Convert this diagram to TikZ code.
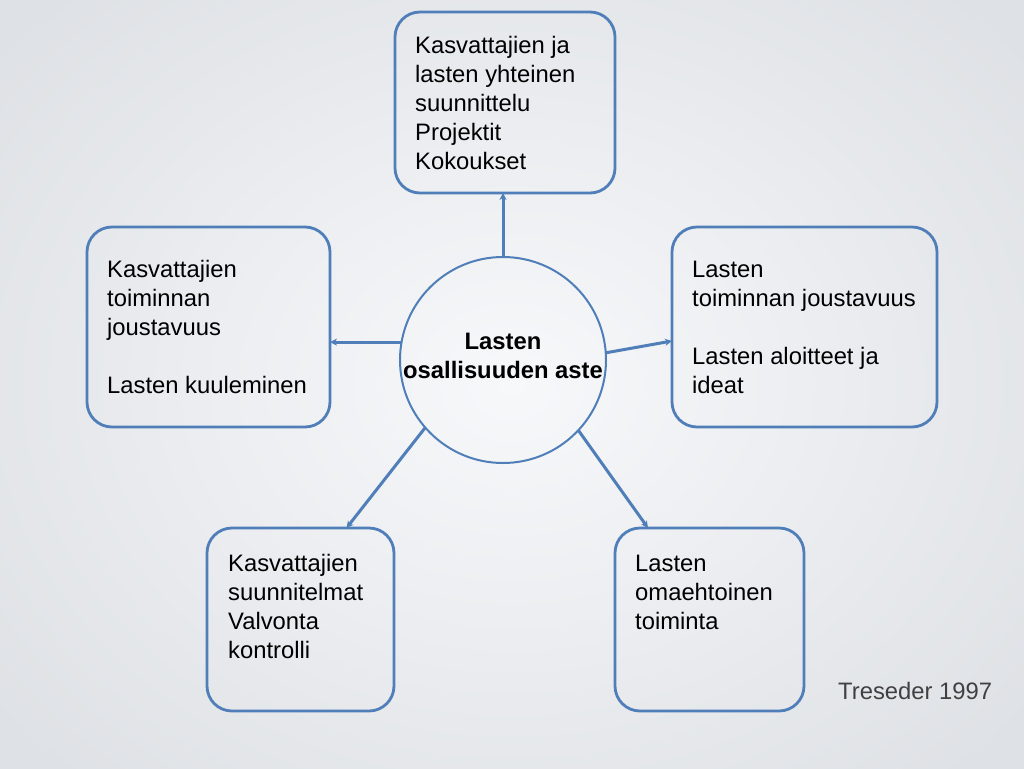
\documentclass[tikz,border=0pt]{standalone}
\usepackage{fontspec}
\setmainfont{Liberation Sans}
\usetikzlibrary{arrows.meta,calc}
\definecolor{bord}{RGB}{79,126,184}
\definecolor{bgin}{RGB}{247,248,250}
\definecolor{bgout}{RGB}{222,225,229}
\definecolor{txtgray}{RGB}{64,64,64}
\tikzset{
  box/.style={draw=bord, line width=2.8pt, rounded corners=25pt, outer sep=0pt, inner sep=0pt},
  lbl/.style={anchor=base west, align=left, inner sep=0pt, font=\fontsize{23.8}{29}\selectfont},
  conn/.style={draw=bord, line width=3pt, -{Stealth[length=7pt,width=7pt]}},
}
\begin{document}
\begin{tikzpicture}[x=1pt,y=-1pt]
\useasboundingbox (0,0) rectangle (1024,768);
\shade[inner color=bgin, outer color=bgout] (-150,-150) rectangle (1174,918);
\node[box, minimum width=220pt, minimum height=181pt] (top) at (505,102.5) {};
\node[box, minimum width=243pt, minimum height=200pt] (left) at (208.5,327) {};
\node[box, minimum width=265pt, minimum height=200pt] (right) at (804.5,327) {};
\node[box, minimum width=187pt, minimum height=183pt] (bl) at (300.5,619.5) {};
\node[box, minimum width=189pt, minimum height=183pt] (br) at (709.5,619.5) {};
\node[circle, draw=bord, line width=2pt, minimum size=206pt, inner sep=0pt, outer sep=0pt] (circ) at (503,360) {};
\node[align=center, inner sep=0pt, font=\fontsize{23.8}{29}\selectfont\bfseries] (ctext) at (503,356) {Lasten\\osallisuuden aste};
\node[lbl] (ttop) at (415,169) {Kasvattajien ja\\lasten yhteinen\\suunnittelu\\Projektit\\Kokoukset};
\node[lbl] (tleft) at (107,393) {Kasvattajien\\toiminnan\\joustavuus\\[29pt]Lasten kuuleminen};
\node[lbl] (tright) at (692,393) {Lasten\\toiminnan joustavuus\\[29pt]Lasten aloitteet ja\\ideat};
\node[lbl] (tbl) at (228,658) {Kasvattajien\\suunnitelmat\\Valvonta\\kontrolli};
\node[lbl] (tbr) at (635,629) {Lasten\\omaehtoinen\\toiminta};
\node[lbl, text=txtgray] (ref) at (838,699) {Treseder 1997};
\draw[conn] (circ.north) -- (circ.north |- top.south);
\draw[conn] (circ.170) -- (circ.170 -| left.east);
\draw[conn] (circ.4) -- ($(right.west)+(0,14)$);
\draw[conn] (circ.221) -- ($(bl.north)+(46,0)$);
\draw[conn] (circ.317) -- ($(br.north)+(-61.5,0)$);
\end{tikzpicture}
\end{document}
